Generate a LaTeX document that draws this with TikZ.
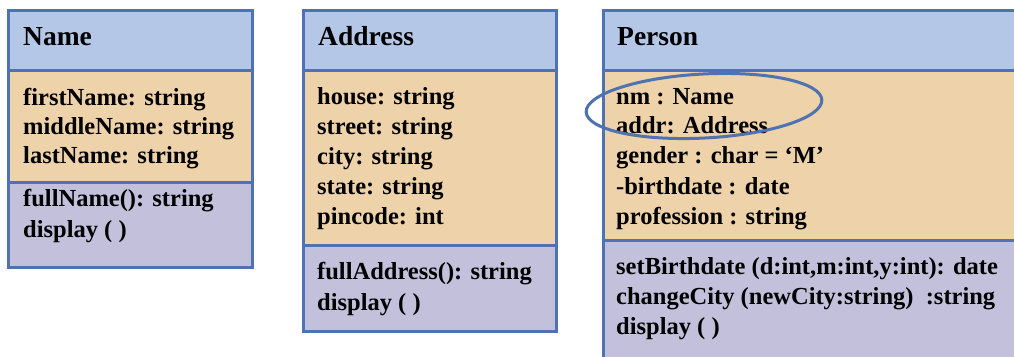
\documentclass[tikz,border=0pt]{standalone}
\usepackage{fontspec}
\setmainfont{Liberation Serif}
\usetikzlibrary{shapes.geometric}
\definecolor{hdr}{HTML}{B4C7E7}
\definecolor{attr}{HTML}{EED2A9}
\definecolor{meth}{HTML}{C3C0DC}
\definecolor{bord}{HTML}{4F72B2}
\tikzset{
  line/.style={inner sep=0pt, anchor=base west, font=\fontsize{24.5}{29}\selectfont\bfseries},
  title/.style={inner sep=0pt, anchor=base west, font=\fontsize{27.5}{32}\selectfont\bfseries},
  frame/.style={draw=bord, line width=3pt},
}
\begin{document}
\begin{tikzpicture}[x=1pt,y=-1pt]
\useasboundingbox[fill=white] (0,0) rectangle (1014,356);
\begin{scope}
\clip (0,0) rectangle (1014,356);
% Name
\fill[hdr] (8,10) rectangle (252,70);
\fill[attr] (8,70) rectangle (252,182);
\fill[meth] (8,182) rectangle (252,267);
\draw[frame] (8,10) rectangle (252,267);
\draw[frame] (8,70) -- (252,70);
\draw[frame] (8,182) -- (252,182);
% Address
\fill[hdr] (303,10) rectangle (556,70);
\fill[attr] (303,70) rectangle (556,245);
\fill[meth] (303,245) rectangle (556,331);
\draw[frame] (303,10) rectangle (556,331);
\draw[frame] (303,70) -- (556,70);
\draw[frame] (303,245) -- (556,245);
% Person
\fill[hdr] (603,10) rectangle (1030,70);
\fill[attr] (603,70) rectangle (1030,240);
\fill[meth] (603,240) rectangle (1030,372);
\draw[frame] (603,10) rectangle (1030,372);
\draw[frame] (603,70) -- (1030,70);
\draw[frame] (603,240) -- (1030,240);
\end{scope}
% Name texts
\node[title] (nT) at (23,45) {Name};
\node[line] (n1) at (23,105) {firstName: string};
\node[line] (n2) at (23,134) {middleName: string};
\node[line] (n3) at (23,163) {lastName: string};
\node[line] (n4) at (23,206) {fullName(): string};
\node[line] (n5) at (23,237) {display ( )};
% Address texts
\node[title] (aT) at (318,45) {Address};
\node[line] (a1) at (317,104) {house: string};
\node[line] (a2) at (317,134) {street: string};
\node[line] (a3) at (317,164) {city: string};
\node[line] (a4) at (317,194) {state: string};
\node[line] (a5) at (317,224) {pincode: int};
\node[line] (a6) at (317,279) {fullAddress(): string};
\node[line] (a7) at (317,310) {display ( )};
% Person texts
\node[title] (pT) at (617,45) {Person};
\node[line] (p1) at (616,104) {nm : Name};
\node[line] (p2) at (616,133) {addr: Address};
\node[line] (p3) at (616,163) {gender : char = ‘M’};
\node[line] (p4) at (616,194) {-birthdate : date};
\node[line] (p5) at (616,224) {profession : string};
\node[line] (p6) at (616,274) {setBirthdate (d:int,m:int,y:int): date};
\node[line] (p7) at (616,304) {changeCity (newCity:string) \ :string};
\node[line] (p8) at (616,334) {display ( )};
% highlight
\node[ellipse, draw=bord, line width=3pt, minimum width=236pt, minimum height=64pt, inner sep=0pt, rotate=3] (hl) at (704,106) {};
\end{tikzpicture}
\end{document}
